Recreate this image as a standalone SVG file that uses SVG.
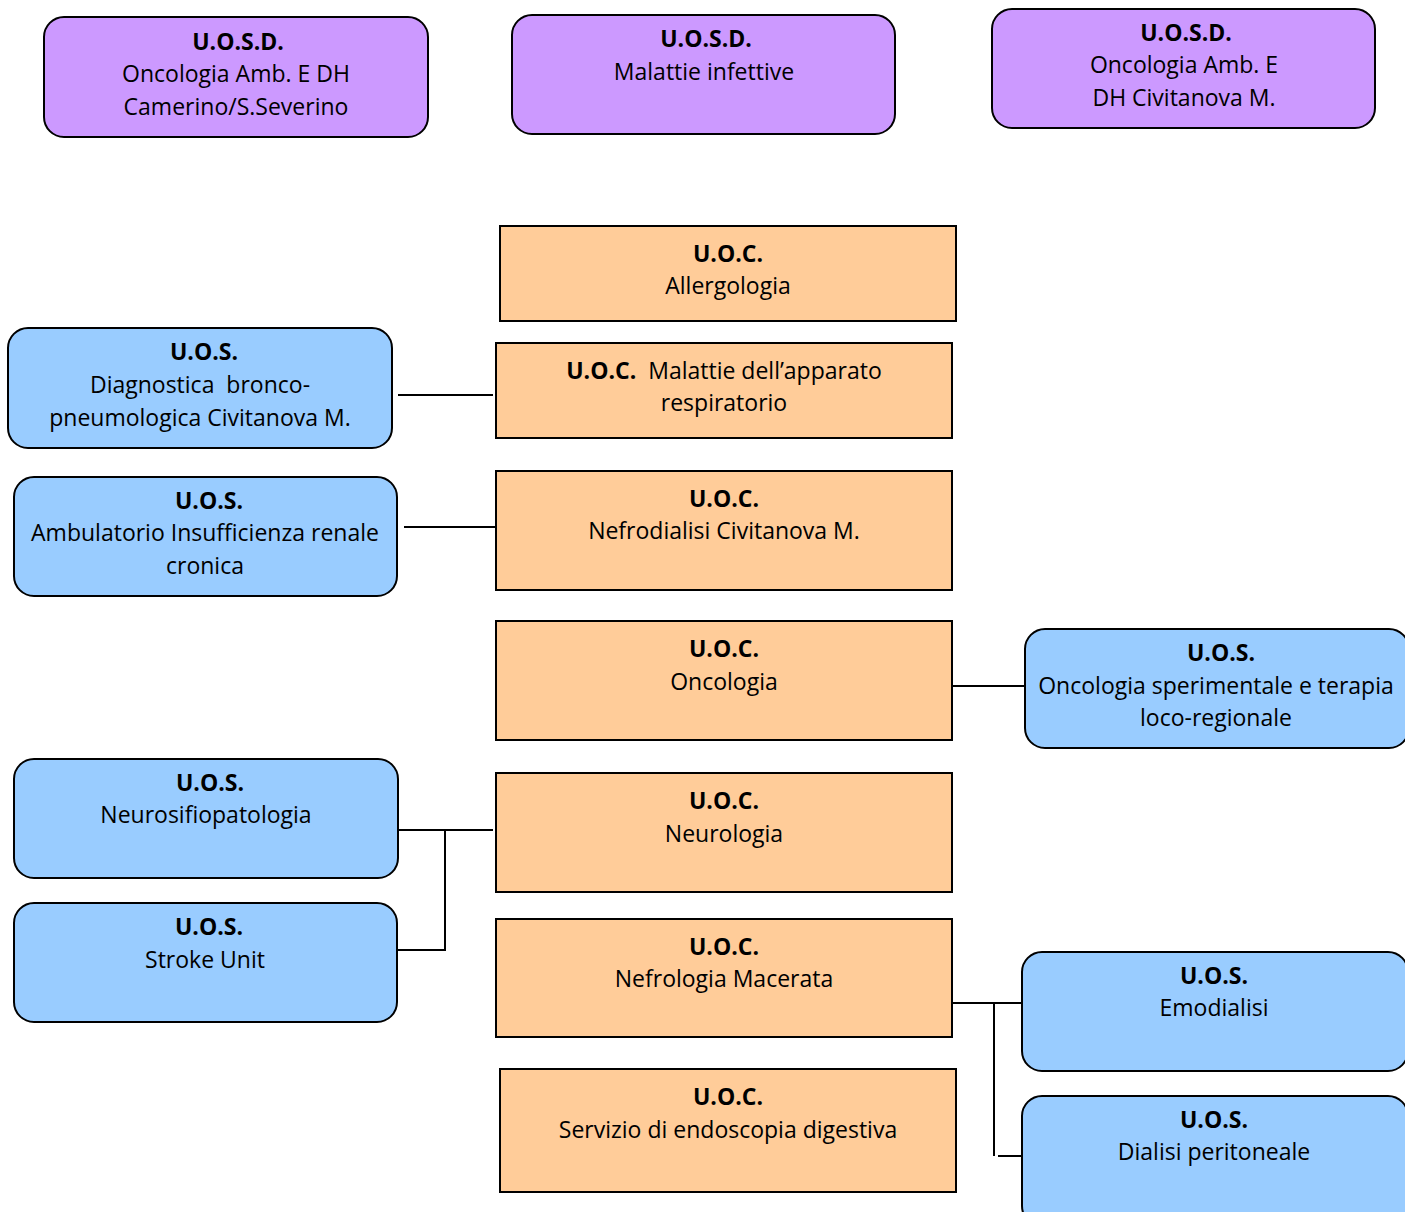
<svg xmlns="http://www.w3.org/2000/svg" width="1405" height="1212" viewBox="0 0 1405 1212">
<style>
.p{fill:#CC99FF;stroke:#000;stroke-width:2}
.o{fill:#FFCC99;stroke:#000;stroke-width:2}
.b{fill:#99CCFF;stroke:#000;stroke-width:2}
text{font-family:"Open Sans","Liberation Sans",Arial,sans-serif;font-size:23px;fill:#000;text-anchor:middle}
.h{font-weight:bold}
.c{stroke:#000;stroke-width:2;fill:none}
</style>
<rect width="1405" height="1212" fill="#fff"/>
<g id="connectors">
<path class="c" d="M398 395H493"/>
<path class="c" d="M404 527H499"/>
<path class="c" d="M398 830H493M445 830V950H398"/>
<path class="c" d="M950 686H1025"/>
<path class="c" d="M950 1003H1022M994 1003V1156M998 1156H1022"/>
</g>
<g id="n1"><rect class="p" x="44" y="17" width="384" height="120" rx="20"/><text class="h" x="238" y="50">U.O.S.D.</text><text x="236" y="82">Oncologia Amb. E DH</text><text x="236" y="115">Camerino/S.Severino</text></g>
<g id="n2"><rect class="p" x="512" y="15" width="383" height="119" rx="20"/><text class="h" x="706" y="47">U.O.S.D.</text><text x="704" y="80">Malattie infettive</text></g>
<g id="n3"><rect class="p" x="992" y="9" width="383" height="119" rx="20"/><text class="h" x="1186" y="41">U.O.S.D.</text><text x="1184" y="73">Oncologia Amb. E</text><text x="1184" y="106">DH Civitanova M.</text></g>
<g id="oA"><rect class="o" x="500" y="226" width="456" height="95"/><text class="h" x="728" y="262">U.O.C.</text><text x="728" y="294">Allergologia</text></g>
<g id="oB"><rect class="o" x="496" y="343" width="456" height="95"/><text x="724" y="379" xml:space="preserve"><tspan class="h">U.O.C.</tspan>  Malattie dell’apparato</text><text x="724" y="411">respiratorio</text></g>
<g id="oC"><rect class="o" x="496" y="471" width="456" height="119"/><text class="h" x="724" y="507">U.O.C.</text><text x="724" y="539">Nefrodialisi Civitanova M.</text></g>
<g id="oD"><rect class="o" x="496" y="621" width="456" height="119"/><text class="h" x="724" y="657">U.O.C.</text><text x="724" y="690">Oncologia</text></g>
<g id="oE"><rect class="o" x="496" y="773" width="456" height="119"/><text class="h" x="724" y="809">U.O.C.</text><text x="724" y="842">Neurologia</text></g>
<g id="oF"><rect class="o" x="496" y="919" width="456" height="118"/><text class="h" x="724" y="955">U.O.C.</text><text x="724" y="987">Nefrologia Macerata</text></g>
<g id="oG"><rect class="o" x="500" y="1069" width="456" height="123"/><text class="h" x="728" y="1105">U.O.C.</text><text x="728" y="1138">Servizio di endoscopia digestiva</text></g>
<g id="bL1"><rect class="b" x="8" y="328" width="384" height="120" rx="20"/><text class="h" x="204" y="360">U.O.S.</text><text x="200" y="393" xml:space="preserve">Diagnostica  bronco-</text><text x="200" y="426">pneumologica Civitanova M.</text></g>
<g id="bL2"><rect class="b" x="14" y="477" width="383" height="119" rx="20"/><text class="h" x="209" y="509">U.O.S.</text><text x="205" y="541">Ambulatorio Insufficienza renale</text><text x="205" y="574">cronica</text></g>
<g id="bL3"><rect class="b" x="14" y="759" width="384" height="119" rx="20"/><text class="h" x="210" y="791">U.O.S.</text><text x="206" y="823">Neurosifiopatologia</text></g>
<g id="bL4"><rect class="b" x="14" y="903" width="383" height="119" rx="20"/><text class="h" x="209" y="935">U.O.S.</text><text x="205" y="968">Stroke Unit</text></g>
<g id="bR1"><rect class="b" x="1025" y="629" width="384" height="119" rx="20"/><text class="h" x="1221" y="661">U.O.S.</text><text x="1216" y="694">Oncologia sperimentale e terapia</text><text x="1216" y="726">loco-regionale</text></g>
<g id="bR2"><rect class="b" x="1022" y="952" width="386" height="119" rx="20"/><text class="h" x="1214" y="984">U.O.S.</text><text x="1214" y="1016">Emodialisi</text></g>
<g id="bR3"><rect class="b" x="1022" y="1096" width="386" height="130" rx="20"/><text class="h" x="1214" y="1128">U.O.S.</text><text x="1214" y="1160">Dialisi peritoneale</text></g>
</svg>
